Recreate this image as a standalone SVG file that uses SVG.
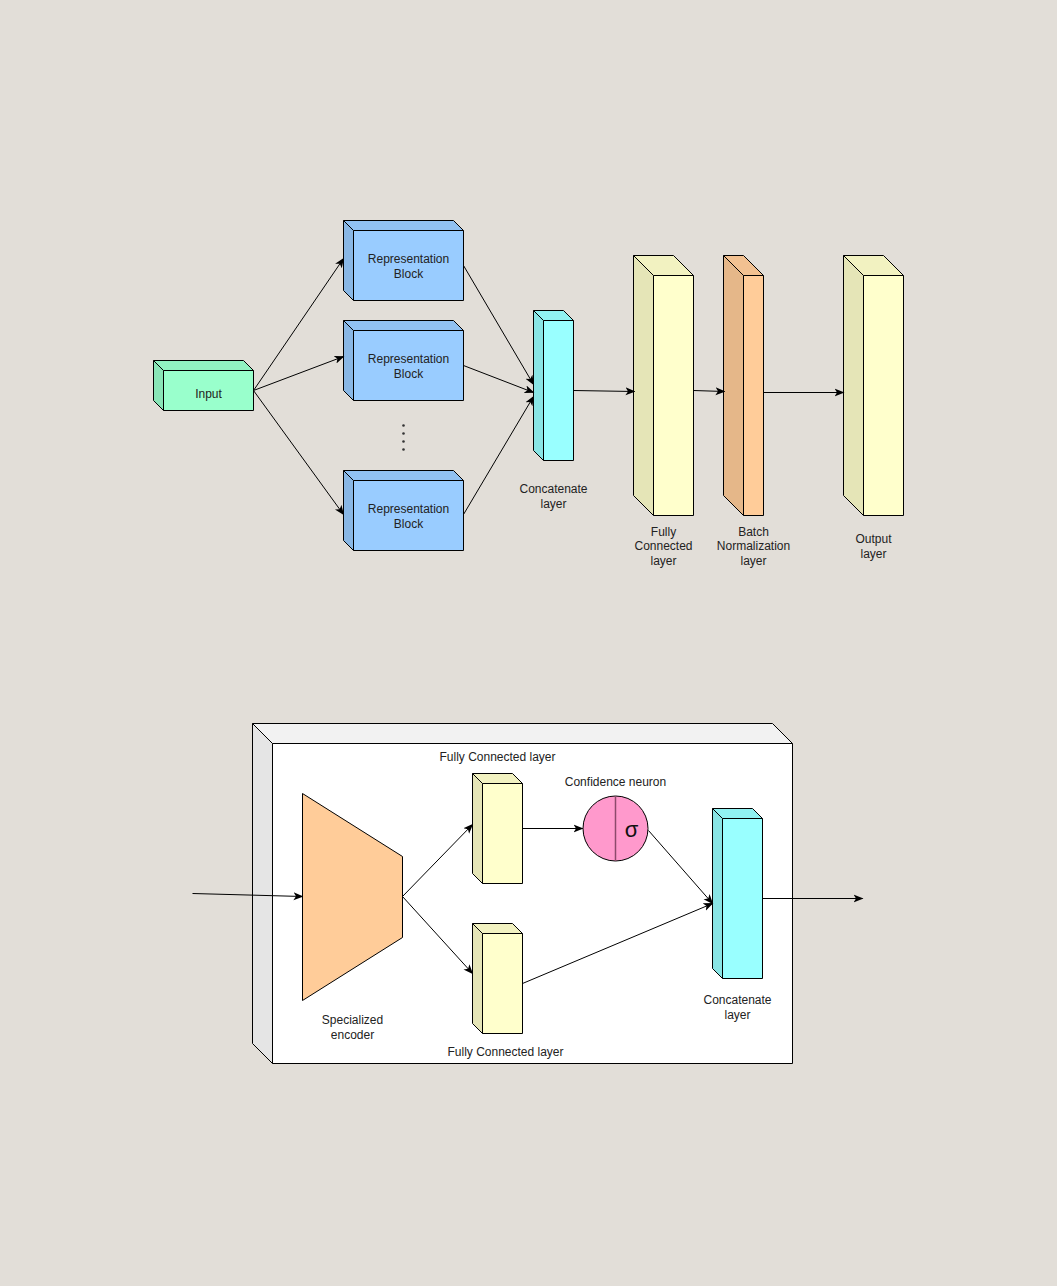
<svg xmlns="http://www.w3.org/2000/svg" width="1057" height="1286" viewBox="0 0 1057 1286">
<style>
.o{stroke:#000;stroke-width:1;}
.l{fill:#000;fill-opacity:0.1;stroke:none;}
.t{fill:#000;fill-opacity:0.05;stroke:none;}
.e{fill:none;stroke:#000;stroke-width:1;}
text{font-family:"Liberation Sans",Arial,sans-serif;font-size:12px;fill:#222;text-anchor:middle;}
.c{fill:none;stroke:#000;stroke-width:1;marker-end:url(#a);}
</style>
<defs>
<marker id="a" viewBox="0 0 10 10" refX="9" refY="5" markerWidth="10" markerHeight="10" markerUnits="userSpaceOnUse" orient="auto">
<path d="M0,1 L10,5 L0,9 L2.5,5 z" fill="#000"/>
</marker>
</defs>
<rect width="1057" height="1286" fill="#E2DED8"/>
<g transform="translate(0.5 0.5)">
<g id="input">
<polygon class="o" fill="#99FFCC" points="153,360 243,360 253,370 253,410 163,410 153,400"/>
<polygon class="l" points="153,360 163,370 163,410 153,400"/>
<polygon class="t" points="153,360 243,360 253,370 163,370"/>
<path class="e" d="M153,360 L163,370 M163,410 V370 H253"/>
<text x="208" y="397">Input</text>
</g>

<g id="rep1">
<polygon class="o" fill="#99CCFF" points="343,220 453,220 463,230 463,300 353,300 343,290"/>
<polygon class="l" points="343,220 353,230 353,300 343,290"/>
<polygon class="t" points="343,220 453,220 463,230 353,230"/>
<path class="e" d="M343,220 L353,230 M353,300 V230 H463"/>
<text x="408" y="262">Representation</text>
<text x="408" y="277">Block</text>
</g>
<g id="rep2">
<polygon class="o" fill="#99CCFF" points="343,320 453,320 463,330 463,400 353,400 343,390"/>
<polygon class="l" points="343,320 353,330 353,400 343,390"/>
<polygon class="t" points="343,320 453,320 463,330 353,330"/>
<path class="e" d="M343,320 L353,330 M353,400 V330 H463"/>
<text x="408" y="362">Representation</text>
<text x="408" y="377">Block</text>
</g>
<g id="dots" fill="#333">
<circle cx="403" cy="425" r="1.3"/><circle cx="403" cy="433" r="1.3"/><circle cx="403" cy="441" r="1.3"/><circle cx="403" cy="449" r="1.3"/>
</g>
<g id="rep3">
<polygon class="o" fill="#99CCFF" points="343,470 453,470 463,480 463,550 353,550 343,540"/>
<polygon class="l" points="343,470 353,480 353,550 343,540"/>
<polygon class="t" points="343,470 453,470 463,480 353,480"/>
<path class="e" d="M343,470 L353,480 M353,550 V480 H463"/>
<text x="408" y="512">Representation</text>
<text x="408" y="527">Block</text>
</g>

<g id="concat1">
<polygon class="o" fill="#99FFFF" points="533,310 563,310 573,320 573,460 543,460 533,450"/>
<polygon class="l" points="533,310 543,320 543,460 533,450"/>
<polygon class="t" points="533,310 563,310 573,320 543,320"/>
<path class="e" d="M533,310 L543,320 M543,460 V320 H573"/>
<text x="553" y="492">Concatenate</text>
<text x="553" y="507">layer</text>
</g>

<g id="fc1">
<polygon class="o" fill="#FFFFCC" points="633,255 673,255 693,275 693,515 653,515 633,495"/>
<polygon class="l" points="633,255 653,275 653,515 633,495"/>
<polygon class="t" points="633,255 673,255 693,275 653,275"/>
<path class="e" d="M633,255 L653,275 M653,515 V275 H693"/>
<text x="663" y="535">Fully</text>
<text x="663" y="549">Connected</text>
<text x="663" y="564">layer</text>
</g>

<g id="bn">
<polygon class="o" fill="#FFCC99" points="723,255 743,255 763,275 763,515 743,515 723,495"/>
<polygon class="l" points="723,255 743,275 743,515 723,495"/>
<polygon class="t" points="723,255 743,255 763,275 743,275"/>
<path class="e" d="M723,255 L743,275 M743,515 V275 H763"/>
<text x="753" y="535">Batch</text>
<text x="753" y="549">Normalization</text>
<text x="753" y="564">layer</text>
</g>

<g id="output">
<polygon class="o" fill="#FFFFCC" points="843,255 883,255 903,275 903,515 863,515 843,495"/>
<polygon class="l" points="843,255 863,275 863,515 843,495"/>
<polygon class="t" points="843,255 883,255 903,275 863,275"/>
<path class="e" d="M843,255 L863,275 M863,515 V275 H903"/>
<text x="873" y="542">Output</text>
<text x="873" y="557">layer</text>
</g>

<g id="container">
<polygon class="o" fill="#FFFFFF" points="252,723 772,723 792,743 792,1063 272,1063 252,1043"/>
<polygon class="l" points="252,723 272,743 272,1063 252,1043"/>
<polygon class="t" points="252,723 772,723 792,743 272,743"/>
<path class="e" d="M252,723 L272,743 M272,1063 V743 H792"/>
</g>

<g id="encoder">
<polygon class="o" fill="#FFCC99" points="302,793 402,856 402,937 302,1000"/>
<text x="352" y="1023">Specialized</text>
<text x="352" y="1038">encoder</text>
</g>

<g id="fcA">
<polygon class="o" fill="#FFFFCC" points="472,773 512,773 522,783 522,883 482,883 472,873"/>
<polygon class="l" points="472,773 482,783 482,883 472,873"/>
<polygon class="t" points="472,773 512,773 522,783 482,783"/>
<path class="e" d="M472,773 L482,783 M482,883 V783 H522"/>
<text x="497" y="760">Fully Connected layer</text>
</g>

<g id="fcB">
<polygon class="o" fill="#FFFFCC" points="472,923 512,923 522,933 522,1033 482,1033 472,1023"/>
<polygon class="l" points="472,923 482,933 482,1033 472,1023"/>
<polygon class="t" points="472,923 512,923 522,933 482,933"/>
<path class="e" d="M472,923 L482,933 M482,1033 V933 H522"/>
<text x="505" y="1055">Fully Connected layer</text>
</g>

<g id="neuron">
<circle class="o" cx="615" cy="828" r="32.5" fill="#FF99CC"/>
<line x1="615" y1="795.5" x2="615" y2="860.5" stroke="#8C4A6B" stroke-width="1.5"/>
<text x="631" y="836" style="font-size:22px;fill:#111">σ</text>
<text x="615" y="785">Confidence neuron</text>
</g>

<g id="concat2">
<polygon class="o" fill="#99FFFF" points="712,808 752,808 762,818 762,978 722,978 712,968"/>
<polygon class="l" points="712,808 722,818 722,978 712,968"/>
<polygon class="t" points="712,808 752,808 762,818 722,818"/>
<path class="e" d="M712,808 L722,818 M722,978 V818 H762"/>
<text x="737" y="1003">Concatenate</text>
<text x="737" y="1018">layer</text>
</g>

<g id="connectors">
<path class="c" d="M253,390 L343,258"/>
<path class="c" d="M253,390 L343,356"/>
<path class="c" d="M253,390 L343,514"/>
<path class="c" d="M463,265 L533,384"/>
<path class="c" d="M463,365 L533,392"/>
<path class="c" d="M463,514 L533,396"/>
<path class="c" d="M573,390 L634,391"/>
<path class="c" d="M693,390 L724,391"/>
<path class="c" d="M763,392 L843,392"/>
<path class="c" d="M192,893 L302,896"/>
<path class="c" d="M402,896 L472,824"/>
<path class="c" d="M402,896 L472,973"/>
<path class="c" d="M522,828 L582,828"/>
<path class="c" d="M648,830 L712,903"/>
<path class="c" d="M522,983 L712,903"/>
<path class="c" d="M762,898 L862,898"/>
</g>
</g>
</svg>
